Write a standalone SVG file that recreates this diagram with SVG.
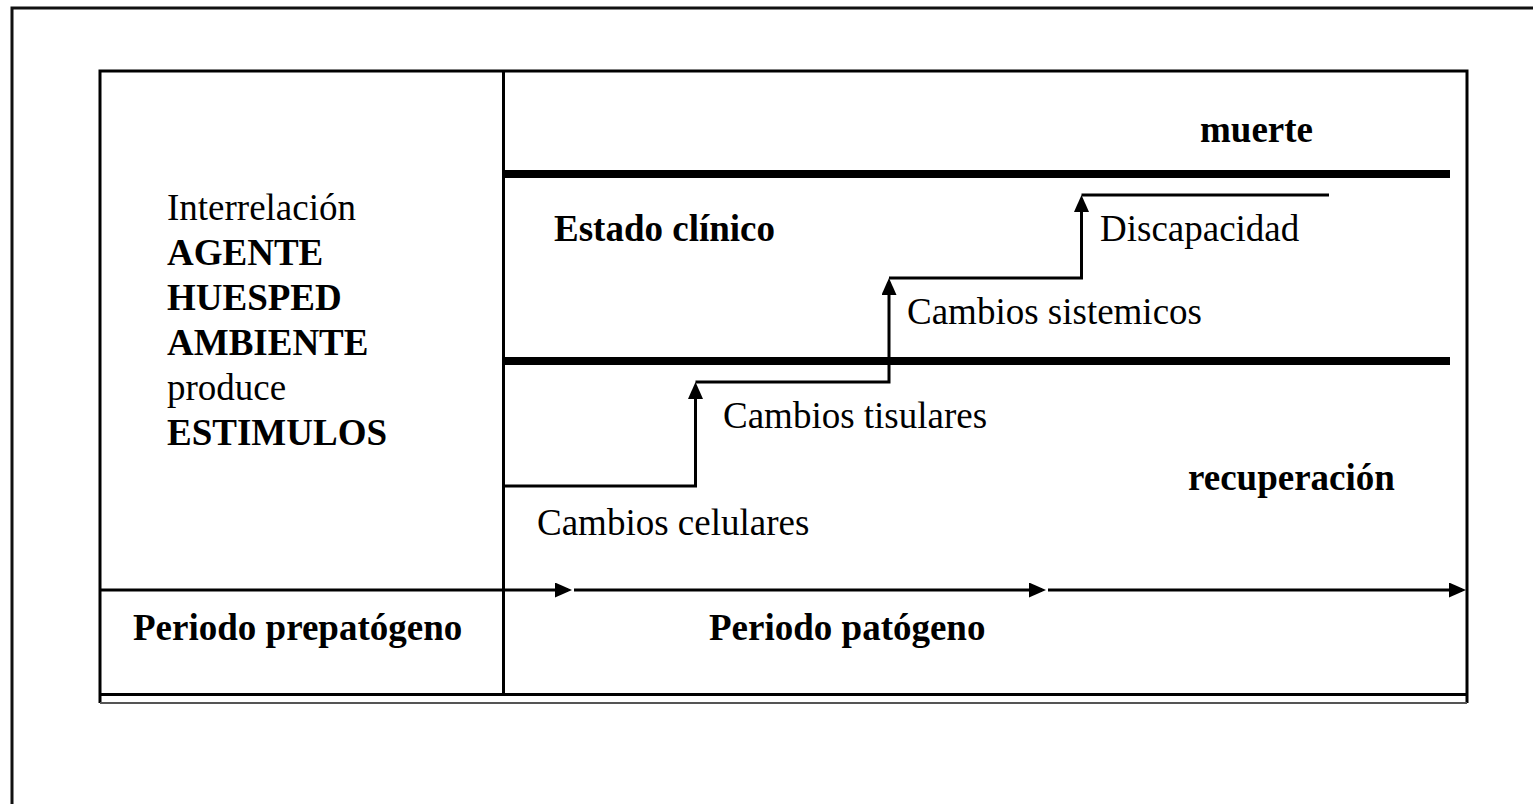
<svg xmlns="http://www.w3.org/2000/svg" width="1533" height="804" viewBox="0 0 1533 804">
<style>
  text { font-family: "Liberation Serif", "Times New Roman", serif; font-size: 37px; fill: #000; }
  .b { font-weight: bold; }
  .frame { fill: none; stroke: #111; stroke-width: 3; }
  .rule { stroke: #000; stroke-width: 3; fill: none; }
  .thick { stroke: #000; stroke-width: 8; fill: none; }
  .gray { stroke: #555; stroke-width: 2; fill: none; }
  .con { stroke: #000; stroke-width: 3; fill: none; }
</style>
<defs>
  <marker id="arr" viewBox="0 0 17 15" refX="13" refY="7.5" markerWidth="17" markerHeight="15" markerUnits="userSpaceOnUse" orient="auto">
    <path d="M0,0 L17,7.5 L0,15 z" fill="#000"/>
  </marker>
</defs>
<rect width="1533" height="804" fill="#fff"/>

<g id="outer-frame">
  <path class="frame" d="M12,810 L12,8 L1540,8"/>
</g>

<g id="table">
  <path class="rule" d="M100,703 L100,71 L1467,71 L1467,703"/>
  <line class="gray" x1="100" y1="703" x2="1467" y2="703"/>
  <line class="rule" x1="100" y1="694.5" x2="1467" y2="694.5"/>
  <line class="rule" x1="503.5" y1="71" x2="503.5" y2="694"/>
  <line class="thick" x1="503" y1="174" x2="1450" y2="174"/>
  <line class="thick" x1="503" y1="361" x2="1450" y2="361"/>
</g>

<g id="node-estimulos">
  <text x="167" y="220">Interrelación</text>
  <text x="167" y="265" class="b">AGENTE</text>
  <text x="167" y="310" class="b">HUESPED</text>
  <text x="167" y="355" class="b">AMBIENTE</text>
  <text x="167" y="400">produce</text>
  <text x="167" y="445" class="b">ESTIMULOS</text>
</g>
<g id="node-muerte"><text x="1200" y="142" class="b">muerte</text></g>
<g id="node-estado-clinico"><text x="554" y="241" class="b">Estado clínico</text></g>
<g id="node-discapacidad"><text x="1100" y="241">Discapacidad</text></g>
<g id="node-cambios-sistemicos"><text x="907" y="324">Cambios sistemicos</text></g>
<g id="node-cambios-tisulares"><text x="723" y="428">Cambios tisulares</text></g>
<g id="node-recuperacion"><text x="1188" y="490" class="b">recuperación</text></g>
<g id="node-cambios-celulares"><text x="537" y="535">Cambios celulares</text></g>
<g id="node-prepatogeno"><text x="133" y="640" class="b">Periodo prepatógeno</text></g>
<g id="node-patogeno"><text x="709" y="640" class="b">Periodo patógeno</text></g>

<g id="connectors">
  <path class="con" d="M503,486 L695.5,486 L695.5,386" marker-end="url(#arr)"/>
  <path class="con" d="M695.5,382 L889,382 L889,282" marker-end="url(#arr)"/>
  <path class="con" d="M889,278 L1081.5,278 L1081.5,199" marker-end="url(#arr)"/>
  <line class="con" x1="1081.5" y1="195" x2="1329" y2="195"/>
  <line class="con" x1="100" y1="590" x2="568" y2="590" marker-end="url(#arr)"/>
  <line class="con" x1="574" y1="590" x2="1042" y2="590" marker-end="url(#arr)"/>
  <line class="con" x1="1048" y1="590" x2="1462" y2="590" marker-end="url(#arr)"/>
</g>
</svg>
